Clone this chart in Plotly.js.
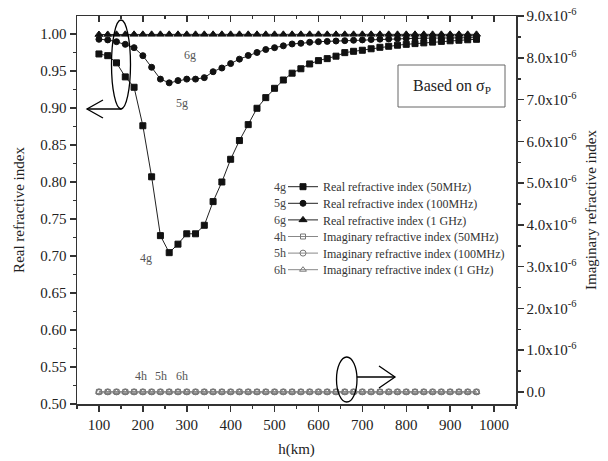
<!DOCTYPE html>
<html>
<head>
<meta charset="utf-8">
<script src="https://cdn.plot.ly/plotly-3.0.1.min.js"></script>
<style>html,body{margin:0;padding:0;background:#fff;}#chart{width:608px;height:461px;}</style>
</head>
<body>
<div id="chart"></div>
<script>
// ---- data ----
const heightKm = [100,120,140,160,180,200,220,240,260,280,300,320,340,360,380,400,420,440,460,480,500,520,540,560,580,600,620,640,660,680,700,720,740,760,780,800,820,840,860,880,900,920,940,960];
const real50MHz = [0.973,0.9707,0.961,0.942,0.928,0.876,0.807,0.7275,0.7045,0.716,0.730,0.730,0.7415,0.7735,0.800,0.8307,0.856,0.8775,0.8996,0.914,0.9266,0.9378,0.947,0.953,0.9595,0.964,0.9667,0.970,0.9748,0.9766,0.978,0.980,0.982,0.9834,0.9848,0.986,0.987,0.988,0.989,0.990,0.9908,0.9915,0.9922,0.9928];
const real100MHz = [0.9928,0.992,0.9896,0.986,0.9815,0.9707,0.955,0.939,0.934,0.937,0.939,0.939,0.941,0.949,0.954,0.960,0.966,0.971,0.975,0.979,0.9815,0.984,0.9865,0.9874,0.9888,0.9896,0.990,0.9905,0.991,0.9915,0.992,0.9925,0.993,0.9933,0.9936,0.9939,0.9941,0.9943,0.9945,0.9947,0.9948,0.9949,0.995,0.995];
const real1GHz = [0.9993,0.9994,0.9995,0.9995,0.9995,0.9995,0.9995,0.9995,0.9995,0.9995,0.9995,0.9995,0.9995,0.9995,0.9995,0.9995,0.9995,0.9995,0.9995,0.9995,0.9995,0.9995,0.9995,0.9995,0.9995,0.9995,0.9995,0.9995,0.9995,0.9995,0.9995,0.9995,0.9995,0.9995,0.9995,0.9995,0.9995,0.9995,0.9995,0.9995,0.9995,0.9995,0.9995,0.9995];
const imag50MHz = [0,0,0,0,0,0,0,0,0,0,0,0,0,0,0,0,0,0,0,0,0,0,0,0,0,0,0,0,0,0,0,0,0,0,0,0,0,0,0,0,0,0,0,0];
const imag100MHz = [0,0,0,0,0,0,0,0,0,0,0,0,0,0,0,0,0,0,0,0,0,0,0,0,0,0,0,0,0,0,0,0,0,0,0,0,0,0,0,0,0,0,0,0];
const imag1GHz = [0,0,0,0,0,0,0,0,0,0,0,0,0,0,0,0,0,0,0,0,0,0,0,0,0,0,0,0,0,0,0,0,0,0,0,0,0,0,0,0,0,0,0,0];
const seriesNames = ["Real refractive index (50MHz)","Real refractive index (100MHz)","Real refractive index (1 GHz)","Imaginary refractive index (50MHz)","Imaginary refractive index (100MHz)","Imaginary refractive index (1 GHz)"];
const seriesTags = ["4g","5g","6g","4h","5h","6h"];
const rightTickVals = [0,1e-6,2e-6,3e-6,4e-6,5e-6,6e-6,7e-6,8e-6,9e-6];
const rightTickText = ["0.0","1.0x10<sup>-6</sup>","2.0x10<sup>-6</sup>","3.0x10<sup>-6</sup>","4.0x10<sup>-6</sup>","5.0x10<sup>-6</sup>","6.0x10<sup>-6</sup>","7.0x10<sup>-6</sup>","8.0x10<sup>-6</sup>","9.0x10<sup>-6</sup>"];

// ---- layout helpers (pixel -> paper) ----
const L = 77, R = 516, T = 16, B = 404;
const PX = x => (x - L) / (R - L);
const PY = y => (B - y) / (B - T);
const FONT = "'Liberation Serif', 'Times New Roman', Times, serif";
const INK = "#222";

function tr(y, name, sym, axis, lineColor, legendId) {
  return {
    x: heightKm, y: y, name: name, yaxis: axis, type: "scatter", mode: "lines+markers", legend: legendId,
    line: {color: lineColor, width: 1},
    marker: {symbol: sym, size: sym.indexOf("triangle") === 0 ? 7 : 6, color: "#111",
             line: {color: "#111", width: 1}}
  };
}
const traces = [
  tr(real50MHz, seriesNames[0], "square", "y", "#222", "legend"),
  tr(real100MHz, seriesNames[1], "circle", "y", "#222", "legend2"),
  tr(real1GHz, seriesNames[2], "triangle-up", "y", "#222", "legend3"),
  tr(imag50MHz, seriesNames[3], "square-open", "y2", "#888", "legend4"),
  tr(imag100MHz, seriesNames[4], "circle-open", "y2", "#888", "legend5"),
  tr(imag1GHz, seriesNames[5], "triangle-up-open", "y2", "#888", "legend6")
];
traces[3].marker.color = "#777"; traces[4].marker.color = "#777"; traces[5].marker.color = "#777";
traces[3].marker.size = 5; traces[4].marker.size = 6; traces[5].marker.size = 6;
traces.push({x: [100, 1000], y: [0, 0], xaxis: "x2", yaxis: "y", mode: "none", showlegend: false, hoverinfo: "skip"});

const axBase = {showgrid: false, zeroline: false, showline: true, linecolor: "#333", linewidth: 1.5,
  tickcolor: "#333", tickwidth: 1.5, ticklen: 6, tickfont: {family: FONT, size: 15, color: INK}};

const legendRowY = [186.7, 203.3, 219.9, 236.5, 253.1, 269.7];
const annotations = [];
seriesTags.forEach((t, i) => annotations.push({xref: "paper", yref: "paper", x: PX(280), y: PY(legendRowY[i]),
  text: t, showarrow: false, xanchor: "center", yanchor: "middle", font: {family: FONT, size: 12, color: "#444"}}));
[["6g", 190, 55], ["5g", 182, 103], ["4g", 146, 258], ["4h", 141, 376], ["5h", 161, 376], ["6h", 182, 376]].forEach(a =>
  annotations.push({xref: "paper", yref: "paper", x: PX(a[1]), y: PY(a[2]), text: a[0], showarrow: false,
    xanchor: "center", yanchor: "middle", font: {family: FONT, size: 12, color: "#555"}}));
annotations.push({xref: "paper", yref: "paper", x: PX(451.5), y: PY(86), text: "Based on σ<sub>P</sub>", showarrow: false,
  xanchor: "center", yanchor: "middle", font: {family: FONT, size: 16, color: INK}});

function pathP(pts) { return pts.map((p, i) => (i ? "L" : "M") + PX(p[0]) + "," + PY(p[1])).join(" "); }
const shapes = [
  {type: "rect", xref: "paper", yref: "paper", x0: PX(398), x1: PX(505), y0: PY(65), y1: PY(107), line: {color: "#666", width: 1}},
  {type: "circle", xref: "paper", yref: "paper", x0: PX(111.5), x1: PX(130.5), y0: PY(20), y1: PY(109), line: {color: "#000", width: 1.3}},
  {type: "path", xref: "paper", yref: "paper", path: pathP([[121.5, 109], [87, 109]]), line: {color: "#000", width: 1.3}},
  {type: "path", xref: "paper", yref: "paper", path: pathP([[103, 100], [87, 109], [103, 118]]), line: {color: "#000", width: 1.3}},
  {type: "circle", xref: "paper", yref: "paper", x0: PX(336.5), x1: PX(357), y0: PY(357), y1: PY(402), line: {color: "#000", width: 1.3}},
  {type: "path", xref: "paper", yref: "paper", path: pathP([[357, 377], [395, 377]]), line: {color: "#000", width: 1.3}},
  {type: "path", xref: "paper", yref: "paper", path: pathP([[379, 366], [395, 377], [379, 388]]), line: {color: "#000", width: 1.3}}
];

const layout = {
  width: 608, height: 461,
  margin: {l: L, r: 608 - R, t: T, b: 461 - B, pad: 0},
  paper_bgcolor: "#fff", plot_bgcolor: "#fff",
  font: {family: FONT, color: INK},
  showlegend: true,
  xaxis: Object.assign({}, axBase, {range: [50, 1050], tickmode: "linear", tick0: 0, dtick: 100, ticks: "outside",
    minor: {dtick: 50, tick0: 0, ticks: "outside", ticklen: 3, tickcolor: "#333", tickwidth: 1.5},
    title: {text: "h(km)", font: {family: FONT, size: 15, color: INK}, standoff: 12}}),
  xaxis2: Object.assign({}, axBase, {overlaying: "x", side: "top", range: [50, 1050], tickmode: "linear", tick0: 0, dtick: 100,
    ticks: "inside", showticklabels: false,
    minor: {dtick: 50, tick0: 0, ticks: "inside", ticklen: 3, tickcolor: "#333", tickwidth: 1.5}}),
  yaxis: Object.assign({}, axBase, {range: [0.5, 1.0243], tickmode: "linear", tick0: 0, dtick: 0.05, tickformat: ".2f", ticks: "outside",
    minor: {dtick: 0.025, tick0: 0, ticks: "outside", ticklen: 3, tickcolor: "#333", tickwidth: 1.5},
    title: {text: "Real refractive index", font: {family: FONT, size: 15, color: INK}, standoff: 12}}),
  yaxis2: Object.assign({}, axBase, {overlaying: "y", side: "right", range: [-0.29e-6, 9.005e-6],
    tickmode: "array", tickvals: rightTickVals, ticktext: rightTickText, ticks: "outside",
    minor: {tickmode: "linear", dtick: 0.5e-6, tick0: 0, ticks: "outside", ticklen: 3, tickcolor: "#333", tickwidth: 1.5},
    title: {text: "Imaginary refractive index", font: {family: FONT, size: 15, color: INK}, standoff: 10}}),
  annotations: annotations,
  shapes: shapes
};
["legend", "legend2", "legend3", "legend4", "legend5", "legend6"].forEach((id, i) => {
  layout[id] = {x: PX(283), y: PY(legendRowY[i]), xanchor: "left", yanchor: "middle", bgcolor: "rgba(0,0,0,0)",
    borderwidth: 0, font: {family: FONT, size: 12, color: "#333"}, itemwidth: 30};
});

Plotly.newPlot("chart", traces, layout, {displayModeBar: false, staticPlot: true});
</script>
</body>
</html>
